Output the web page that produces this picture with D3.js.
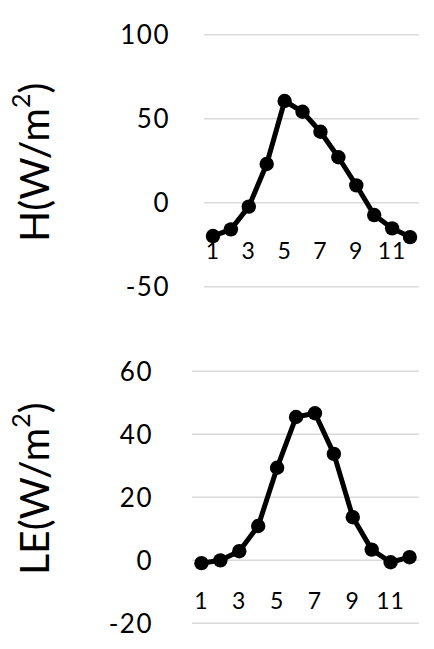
<!DOCTYPE html>
<html>
<head>
<meta charset="utf-8">
<script src="https://cdn.jsdelivr.net/npm/d3@7"></script>
<style>
  html, body { margin: 0; padding: 0; background: #fff; }
  text { font-family: Lato, "Noto Sans", sans-serif; fill: #000; }
</style>
</head>
<body>
<svg id="chart" width="434" height="649"></svg>
<script>
// ---- data ----
const months = [1, 2, 3, 4, 5, 6, 7, 8, 9, 10, 11, 12];
const monthTickLabels = [1, 3, 5, 7, 9, 11];
const hValues = [-20.1, -16.1, -2.6, 22.8, 60.3, 53.9, 42.0, 26.8, 10.1, -7.6, -15.5, -20.7];
const leValues = [-1.1, -0.2, 2.7, 10.7, 29.2, 45.3, 46.5, 33.6, 13.5, 3.2, -0.8, 0.8];
const hTicks = [-50, 0, 50, 100];
const leTicks = [-20, 0, 20, 40, 60];

const svg = d3.select("#chart");

function panel(cfg) {
  const x = d3.scaleBand().domain(cfg.categories).range([cfg.x0, cfg.x1]).padding(0);
  const y = d3.scaleLinear().domain(cfg.domain).range([cfg.y0, cfg.y1]);
  const g = svg.append("g");

  // gridlines + y tick labels
  const yAxis = g.append("g")
    .attr("transform", `translate(${cfg.x0},0)`)
    .call(d3.axisLeft(y).tickValues(cfg.ticks).tickSize(-(cfg.x1 - cfg.x0))
      .tickPadding(cfg.x0 - cfg.labelRight).tickFormat(d => String(d)));
  yAxis.select(".domain").remove();
  yAxis.selectAll(".tick line").attr("stroke", "#d9d9d9").attr("stroke-width", 1.5);
  yAxis.selectAll(".tick text").attr("font-size", 26).attr("dy", "0.36em")
    .attr("letter-spacing", 1.5)
    .style("font-family", "Lato, sans-serif");

  // x labels
  const xAxis = g.append("g")
    .attr("transform", `translate(0,${y(0)})`)
    .call(d3.axisBottom(x).tickValues(cfg.tickLabels).tickSize(0));
  xAxis.select(".domain").remove();
  xAxis.selectAll(".tick text").attr("font-size", 23).attr("y", cfg.labelOffset).attr("dy", "0.36em")
    .attr("letter-spacing", 1)
    .style("font-family", "Lato, sans-serif");

  // line
  const line = d3.line()
    .x((d, i) => x(cfg.categories[i]) + x.bandwidth() / 2)
    .y(d => y(d));
  g.append("path").datum(cfg.values)
    .attr("d", line).attr("fill", "none").attr("stroke", "#000")
    .attr("stroke-width", 5).attr("stroke-linejoin", "round");
  g.selectAll("circle.pt").data(cfg.values).enter().append("circle")
    .attr("class", "pt")
    .attr("cx", (d, i) => x(cfg.categories[i]) + x.bandwidth() / 2)
    .attr("cy", d => y(d))
    .attr("r", 7.2).attr("fill", "#000");

  // y title
  const t = svg.append("text")
    .attr("transform", `translate(${cfg.titleX},${(cfg.y0 + cfg.y1) / 2 + cfg.titleShift}) rotate(-90)`)
    .attr("text-anchor", "middle")
    .attr("font-size", 41);
  t.append("tspan").text(cfg.titleMain);
  t.append("tspan").attr("font-size", 25).attr("dy", "-0.75em").text("2");
  t.append("tspan").attr("dy", "0.45em").text(")");
}

panel({
  categories: months, values: hValues, ticks: hTicks, tickLabels: monthTickLabels,
  domain: [-50, 100], x0: 204, x1: 419, y0: 286.3, y1: 34.3,
  labelRight: 170, labelOffset: 48, titleX: 49, titleShift: 2, titleMain: "H(W/m"
});
panel({
  categories: months, values: leValues, ticks: leTicks, tickLabels: monthTickLabels,
  domain: [-20, 60], x0: 192, x1: 419, y0: 622.7, y1: 370.7,
  labelRight: 153, labelOffset: 41, titleX: 49, titleShift: -8, titleMain: "LE(W/m"
});
</script>
</body>
</html>
